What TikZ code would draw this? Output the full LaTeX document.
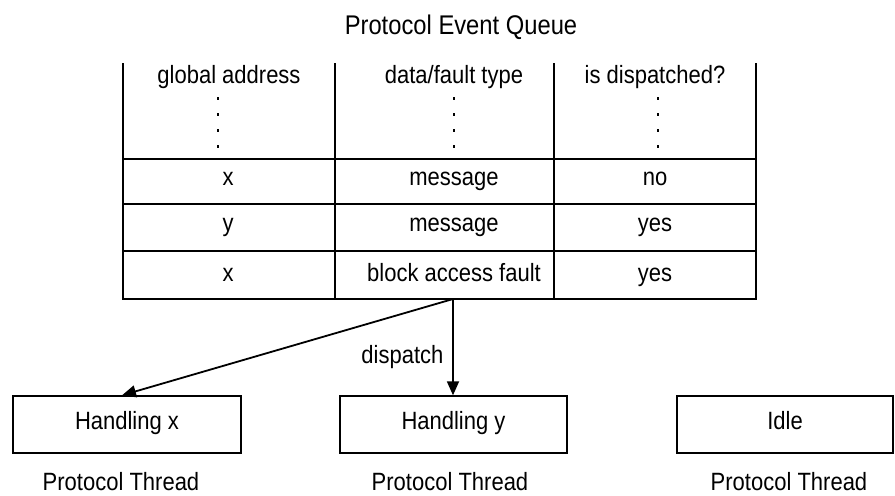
\documentclass[tikz,border=0pt]{standalone}
\usepackage{fontspec}
\setmainfont{Liberation Sans}[FakeStretch=0.88]
\usetikzlibrary{positioning,arrows.meta}

\begin{document}
\begin{tikzpicture}[
	x=0.5pt, y=-0.5pt,
	font=\fontsize{12.5}{15}\selectfont,
	cell/.style={ % text in the queue
		anchor=base,
		inner sep=0pt
	},
	grid_line/.style={ % table rules
		line width=1pt, black
	},
	dot_line/.style={ % "more entries" marks
		line width=1.2pt,
		dash pattern=on 1.5pt off 6.5pt
	},
	thread/.style={ % protocol thread box
		draw, line width=0.7pt,
		minimum height=28.5pt,
		text height=0.75em, text depth=0.25em,
		inner sep=0pt
	},
	disp_arrow/.style={ % dispatch arrow
		-{Triangle[length=7pt,width=6pt]},
		line width=0.9pt
	}
	]
	\useasboundingbox (0,0) rectangle (895,495);
	
	% ================= TITLE =================
	\node[cell, font=\fontsize{13.5}{16}\selectfont] (title) at (461,34) {Protocol Event Queue};
	
	% ================= TABLE =================
	\draw[grid_line] (123,63) -- (123,299) -- (756,299) -- (756,63);
	\draw[grid_line] (335,63) -- (335,299);
	\draw[grid_line] (554,63) -- (554,299);
	\foreach \yy in {159,204,251} {
		\draw[grid_line] (123,\yy) -- (756,\yy);
	}
	
	% Header
	\node[cell] (h-1) at (229,83) {global address};
	\node[cell] (h-2) at (454,83) {data/fault type};
	\node[cell] (h-3) at (655,83) {is dispatched?};
	\foreach \xx in {218,454,658} {
		\draw[dot_line] (\xx,97) -- (\xx,151);
	}
	
	% Rows
	\foreach \a/\b/\c/\yy [count=\r] in {x/message/no/185, y/message/yes/231, x/{block access fault}/yes/281} {
		\node[cell] (r\r-1) at (228,\yy) {\a};
		\node[cell] (r\r-2) at (454,\yy) {\b};
		\node[cell] (r\r-3) at (655,\yy) {\c};
	}
	\coordinate (qbot) at (453,299);
	
	% ================= THREADS =================
	\node[thread, minimum width=114pt]   (hx)   at (127,424.5)   {Handling x};
	\node[thread, minimum width=113.5pt] (hy)   at (453.5,424.5) {Handling y};
	\node[thread, minimum width=108pt]   (idle) at (785,424.5)   {Idle};
	
	\foreach \xx/\nm in {121/hx, 450/hy, 789/idle} {
		\node[cell] (t-\nm) at (\xx,490) {Protocol Thread};
	}
	
	% Dispatch arrows
	\draw[disp_arrow] (qbot) -- node[pos=0.6, left=1pt] (lab) {dispatch} (qbot |- hy.north);
	\draw[disp_arrow] (qbot) -- ([xshift=-2.5pt]hx.north);
	
\end{tikzpicture}
\end{document}
